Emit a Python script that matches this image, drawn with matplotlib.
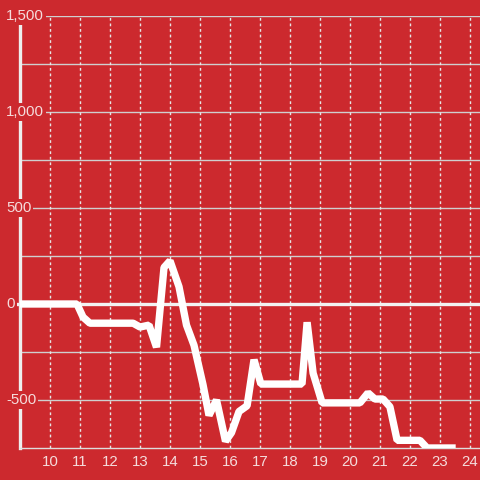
import matplotlib
matplotlib.use('Agg')
import matplotlib.pyplot as plt

# data
hours = [9, 10.9, 11.1, 11.33, 12.77, 13.0, 13.3, 13.55, 13.8, 14.0, 14.3, 14.55,
         14.8, 15.1, 15.3, 15.55, 15.85, 16.05, 16.3, 16.57, 16.8, 17.03, 18.4,
         18.57, 18.77, 19.07, 20.33, 20.6, 20.83, 21.1, 21.33, 21.57, 22.33,
         22.57, 23.4]
values = [0, 0, -68, -100, -100, -120, -110, -225, 190, 225, 90, -110,
          -215, -420, -580, -500, -715, -670, -560, -530, -290, -417, -417,
          -95, -360, -515, -515, -463, -495, -495, -535, -710, -710,
          -750, -750]
x_ticks = list(range(10, 25))
y_ticks = [-500, 0, 500, 1000, 1500]
y_grid = [-500, -250, 250, 500, 750, 1000, 1250, 1500]

bg = '#cc292e'
txt = '#f5dcdc'
plt.rcParams['font.family'] = ['Liberation Sans', 'DejaVu Sans']

fig = plt.figure(figsize=(4.8, 4.8), dpi=100, facecolor=bg)
ax = fig.add_axes([20 / 480, 32 / 480, 460 / 480, 432 / 480], facecolor=bg)
ax.set_xlim(9, 24.333)
ax.set_ylim(-750, 1500)

for y in y_grid:
    ax.axhline(y, color='#cfcfcf', lw=1, zorder=1)
for x in x_ticks:
    ax.axvline(x, color='#e6e6e6', lw=1, ls=(0, (2, 2)), zorder=1)
ax.axhline(0, xmin=-10 / 460, xmax=1, color='#f2f2f2', lw=2.4, zorder=2, clip_on=False)

ax.plot(hours, values, color='white', lw=5.3, solid_joinstyle='bevel', zorder=3)

for s in ['top', 'right']:
    ax.spines[s].set_visible(False)
ax.spines['left'].set_color('#eeeeee')
ax.spines['left'].set_linewidth(2.4)
ax.spines['bottom'].set_color('#dddddd')
ax.spines['bottom'].set_linewidth(1)

ax.set_yticks([])
ax.set_xticks(x_ticks)
ax.set_xticklabels([str(x) for x in x_ticks], color=txt, fontsize=10.8)
ax.tick_params(axis='x', length=0, pad=5)

tr = ax.get_yaxis_transform()
for y in y_ticks:
    ax.text(-14 / 460, y, f'{y:,}', transform=tr, ha='left', va='center',
            color=txt, fontsize=10.8, zorder=10, clip_on=False,
            bbox=dict(facecolor=bg, edgecolor='none', pad=1.5))

fig.savefig('out.png', dpi=100, facecolor=bg)
